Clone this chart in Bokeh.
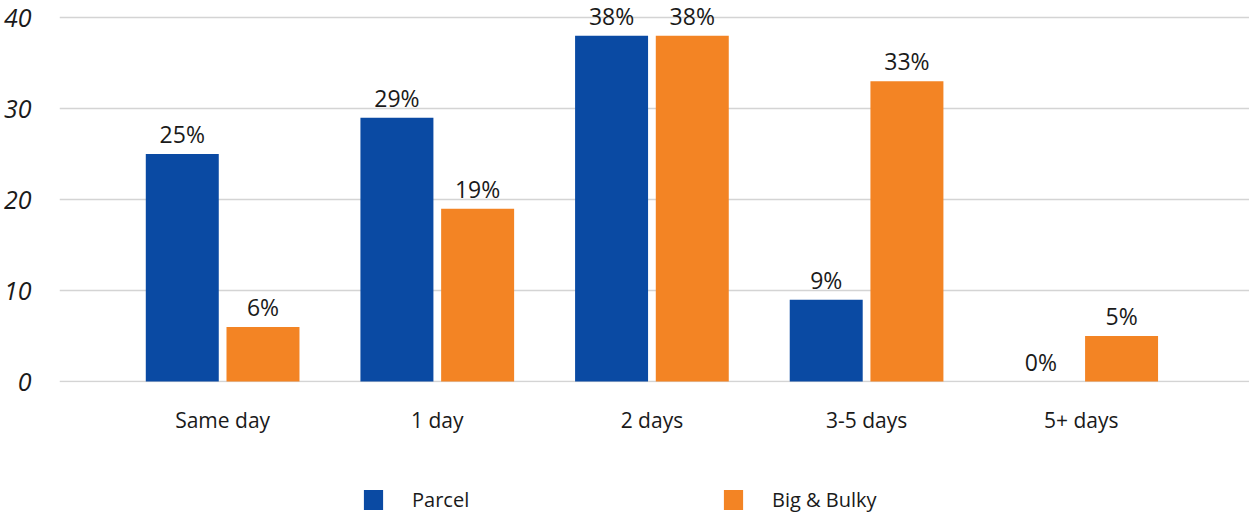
from bokeh.plotting import figure
from bokeh.layouts import column
from bokeh.models import ColumnDataSource, FixedTicker, Legend, LegendItem, Range1d
from bokeh.core.properties import value
from bokeh.embed import file_html
from bokeh.resources import INLINE

categories = ["Same day", "1 day", "2 days", "3-5 days", "5+ days"]
parcel = [25, 29, 38, 9, 0]
bulky = [6, 19, 38, 33, 5]
series_names = ["Parcel", "Big & Bulky"]
y_ticks = [0, 10, 20, 30, 40]

BLUE = "#0a4aa3"
ORANGE = "#f38424"
FONT = "Open Sans"
TXT = "#1a1a1a"

xs = list(range(len(categories)))
off = 0.188
bw = 0.34

src_p = ColumnDataSource(dict(x=[i - off for i in xs], top=parcel,
                              lbl=[f"{v}%" for v in parcel]))
src_b = ColumnDataSource(dict(x=[i + off for i in xs], top=bulky,
                              lbl=[f"{v}%" for v in bulky]))

p = figure(width=1249, height=460, output_backend="svg", toolbar_location=None,
           x_range=Range1d(-0.760, 4.784), y_range=Range1d(-0.1, 41.87),
           min_border_left=57, min_border_right=0, min_border_top=0,
           min_border_bottom=78)
p.outline_line_color = None
p.background_fill_color = "white"
p.border_fill_color = "white"

p.vbar(x="x", top="top", width=bw, source=src_p, color=BLUE, line_color=None)
p.vbar(x="x", top="top", width=bw, source=src_b, color=ORANGE, line_color=None)

for s in (src_p, src_b):
    p.text(x="x", y="top", text="lbl", source=s, text_align="center",
           text_baseline="bottom", y_offset=-4, text_font=value(FONT),
           text_font_size="23px", text_color=TXT)

p.xgrid.visible = False
p.ygrid.grid_line_color = "#d4d4d4"
p.ygrid.grid_line_width = 1.5
p.yaxis.ticker = FixedTicker(ticks=y_ticks)
p.xaxis.ticker = FixedTicker(ticks=xs)
p.xaxis.major_label_overrides = {i: c for i, c in enumerate(categories)}

for ax in (p.xaxis[0], p.yaxis[0]):
    ax.axis_line_color = None
    ax.major_tick_line_color = None
    ax.minor_tick_line_color = None
    ax.major_label_text_font = FONT
    ax.major_label_text_color = TXT

p.yaxis.major_label_text_font_size = "25px"
p.yaxis.major_label_text_font_style = "italic"
p.yaxis.major_label_standoff = 22
p.xaxis.major_label_text_font_size = "21px"
p.xaxis.major_label_standoff = 17

# legend figure
p2 = figure(width=1249, height=57, output_backend="svg", toolbar_location=None,
            x_range=Range1d(0, 1), y_range=Range1d(100, 101),
            x_axis_location=None, y_axis_location=None,
            min_border_left=0, min_border_right=0, min_border_top=0,
            min_border_bottom=0)
p2.outline_line_color = None
p2.grid.visible = False
p2.border_fill_color = "white"
g1 = p2.vbar(x="x", top="top", width=bw, source=src_p, color=BLUE, line_color=None)
g2 = p2.vbar(x="x", top="top", width=bw, source=src_b, color=ORANGE, line_color=None)

legend = Legend(items=[LegendItem(label=series_names[0], renderers=[g1]),
                       LegendItem(label=series_names[1], renderers=[g2])],
                orientation="horizontal", location=(302, 4),
                glyph_width=24, glyph_height=25, label_standoff=27,
                label_width=309, spacing=0, padding=0, margin=0,
                border_line_color=None, background_fill_alpha=0,
                label_text_font=FONT, label_text_font_size="20px",
                label_text_color=TXT)
p2.add_layout(legend, "center")

layout = column(p, p2, spacing=0)
open("out.html", "w").write(file_html(layout, INLINE))
